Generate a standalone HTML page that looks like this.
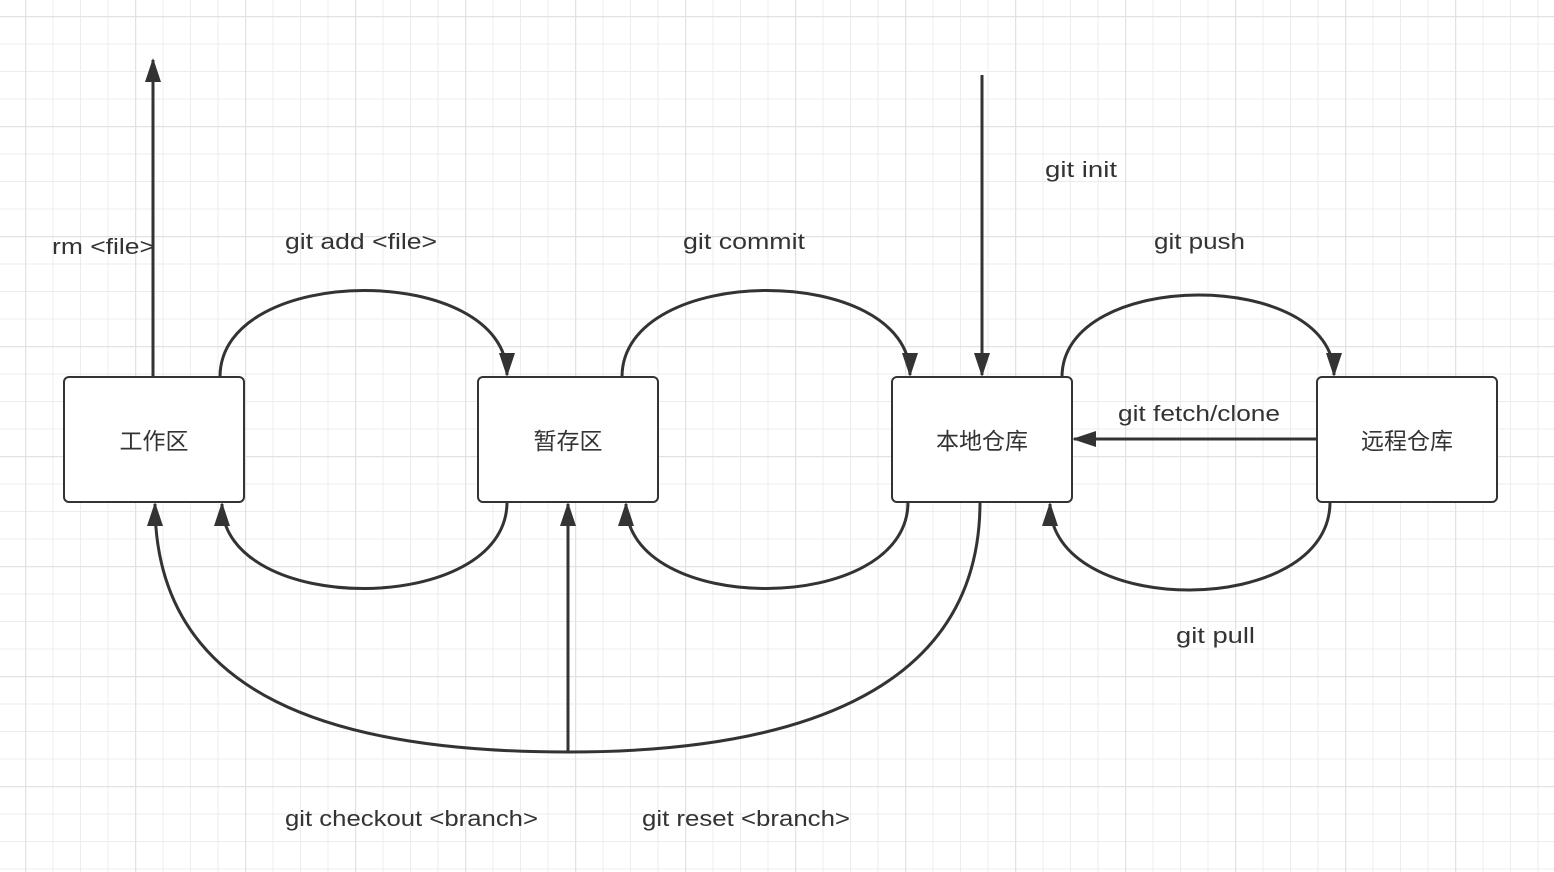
<!DOCTYPE html>
<html><head><meta charset="utf-8"><style>
html,body{margin:0;padding:0;background:#fff;}
svg{display:block;}
text{font-family:"Liberation Sans","Noto Sans CJK SC",sans-serif;fill:#333;}
</style></head><body>
<svg width="1554" height="872" viewBox="0 0 1554 872" xmlns="http://www.w3.org/2000/svg">
<defs>
<pattern id="minor" x="25" y="16" width="27.5" height="27.5" patternUnits="userSpaceOnUse">
<path d="M0 0 V27.5 M0 0 H27.5" stroke="#ececec" stroke-width="2" fill="none"/>
</pattern>
<pattern id="major" x="25" y="16" width="110" height="110" patternUnits="userSpaceOnUse">
<path d="M0 0 V110 M0 0 H110" stroke="#e2e2e2" stroke-width="2.5" fill="none"/>
</pattern>
<marker id="ah" viewBox="0 0 24 16" refX="22" refY="8" markerWidth="24" markerHeight="16" markerUnits="userSpaceOnUse" orient="auto">
<path d="M0 0 L24 8 L0 16 Z" fill="#333"/>
</marker>
</defs>
<rect width="1554" height="872" fill="url(#minor)"/>
<rect width="1554" height="872" fill="url(#major)"/>

<g fill="none" stroke="#333" stroke-width="3">
<path d="M153 377 V60" marker-end="url(#ah)"/>
<path d="M982 75 V375" marker-end="url(#ah)"/>
<path d="M1317 439 H1074" marker-end="url(#ah)"/>
<path d="M220 377 C220 262 507 262 507 375" marker-end="url(#ah)"/>
<path d="M507 502 C507 617 222 617 222 504" marker-end="url(#ah)"/>
<path d="M622 377 C622 262 910 262 910 375" marker-end="url(#ah)"/>
<path d="M908 502 C908 617 626 617 626 504" marker-end="url(#ah)"/>
<path d="M1062 377 C1062 268 1334 268 1334 375" marker-end="url(#ah)"/>
<path d="M1330 502 C1330 619 1050 619 1050 504" marker-end="url(#ah)"/>
<path d="M980 502 C980 700 780 752 568 752 C340 752 155 700 155 504" marker-end="url(#ah)"/>
<path d="M568 752 V504" marker-end="url(#ah)"/>
</g>

<g fill="#fff" stroke="#333" stroke-width="2">
<rect x="64" y="377" width="180" height="125" rx="5"/>
<rect x="478" y="377" width="180" height="125" rx="5"/>
<rect x="892" y="377" width="180" height="125" rx="5"/>
<rect x="1317" y="377" width="180" height="125" rx="5"/>
</g>

<g font-size="23" text-anchor="middle">
<text x="154" y="449">工作区</text>
<text x="568" y="449">暂存区</text>
<text x="982" y="449">本地仓库</text>
<text x="1407" y="449">远程仓库</text>
</g>
<g font-size="22" lengthAdjust="spacingAndGlyphs">
<text x="52" y="254" textLength="103" lengthAdjust="spacingAndGlyphs">rm &lt;file&gt;</text>
<text x="285" y="249" textLength="152" lengthAdjust="spacingAndGlyphs">git add &lt;file&gt;</text>
<text x="683" y="249" textLength="122" lengthAdjust="spacingAndGlyphs">git commit</text>
<text x="1045" y="177" textLength="72" lengthAdjust="spacingAndGlyphs">git init</text>
<text x="1154" y="249" textLength="91" lengthAdjust="spacingAndGlyphs">git push</text>
<text x="1118" y="421" textLength="162" lengthAdjust="spacingAndGlyphs">git fetch/clone</text>
<text x="1176" y="643" textLength="79" lengthAdjust="spacingAndGlyphs">git pull</text>
<text x="285" y="826" textLength="253" lengthAdjust="spacingAndGlyphs">git checkout &lt;branch&gt;</text>
<text x="642" y="826" textLength="208" lengthAdjust="spacingAndGlyphs">git reset &lt;branch&gt;</text>
</g>
</svg>
</body></html>
